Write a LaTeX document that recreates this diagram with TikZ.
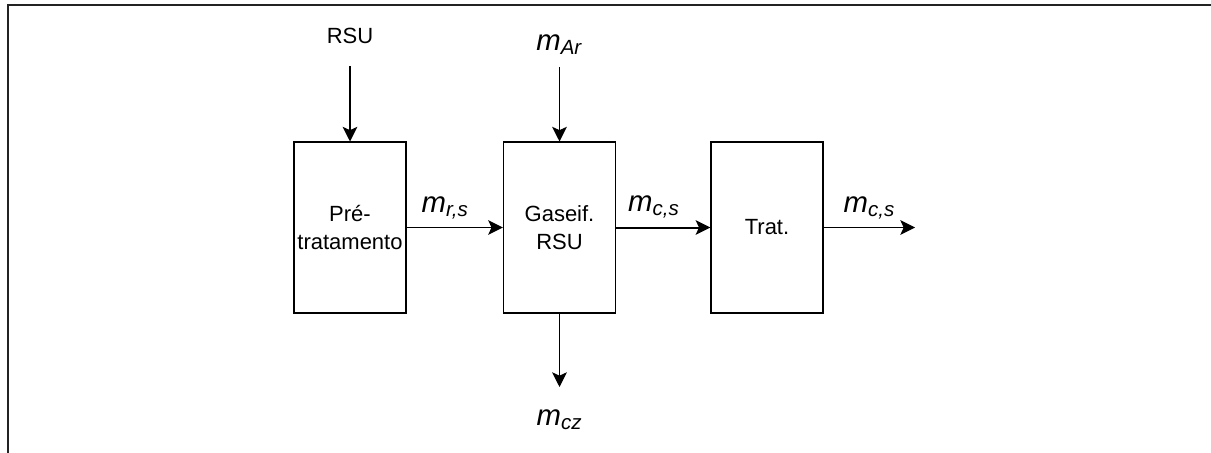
\documentclass[tikz,border=0pt]{standalone}
\usepackage{fontspec}
\setmainfont{Liberation Sans}
\usetikzlibrary{arrows.meta, positioning}
\definecolor{framegray}{RGB}{35,35,35}
\newcommand{\flux}[1]{\textit{m}\textsubscript{\textit{#1}}}

\begin{document}
\begin{tikzpicture}[x=0.75pt, y=-0.75pt,
  block/.style={draw, line width=1pt, minimum width=84pt, minimum height=128pt,
    inner sep=1pt, align=center, font=\fontsize{16.5}{20.5}\selectfont},
  tag/.style={font=\fontsize{16.5}{20}\selectfont, inner sep=0pt},
  flowlbl/.style={font=\fontsize{22}{24}\selectfont, inner sep=0pt},
  flow/.style={line width=1pt, -{Stealth[length=11pt, width=11pt, inset=2.5pt]}}]
  \useasboundingbox (0,0) rectangle (1211,453);

  % Frame (open at right and bottom)
  \draw[framegray, line width=1.5pt] (7.5,453) -- (7.5,5) -- (1211,5);

  % Process blocks
  \node[block] (pre) at (350,227.5) {Pré-\\tratamento};
  \node[block] (gas) at (559.5,227.5) {Gaseif.\\RSU};
  \node[block] (trat) at (767,227.5) {Trat.};

  % Inputs from above
  \coordinate (rsuin) at (350,66);
  \node[tag, above=16.5pt of rsuin] (rsu) {RSU};
  \draw[flow] (rsuin) -- (pre);

  \coordinate (arin) at (559.5,67);
  \node[flowlbl, above=9pt of arin] (ar) {\flux{Ar}};
  \draw[flow] (arin) -- (gas);

  % Main line
  \draw[flow] (pre) -- node[flowlbl, above=6pt, pos=0.4] (mrs) {\flux{r,s}} (gas);
  \draw[flow, line width=1.5pt] (gas) -- node[flowlbl, above=6pt, pos=0.4] (mcs) {\flux{c,s}} (trat);
  \coordinate (out) at (915,227.5);
  \draw[flow] (trat) -- node[flowlbl, above=6pt, midway] (mcsout) {\flux{c,s}} (out);

  % Ash
  \coordinate (czout) at (559.5,387);
  \draw[flow] (gas) -- (czout);
  \node[flowlbl, below=17pt of czout] (cz) {\flux{cz}};
\end{tikzpicture}
\end{document}
